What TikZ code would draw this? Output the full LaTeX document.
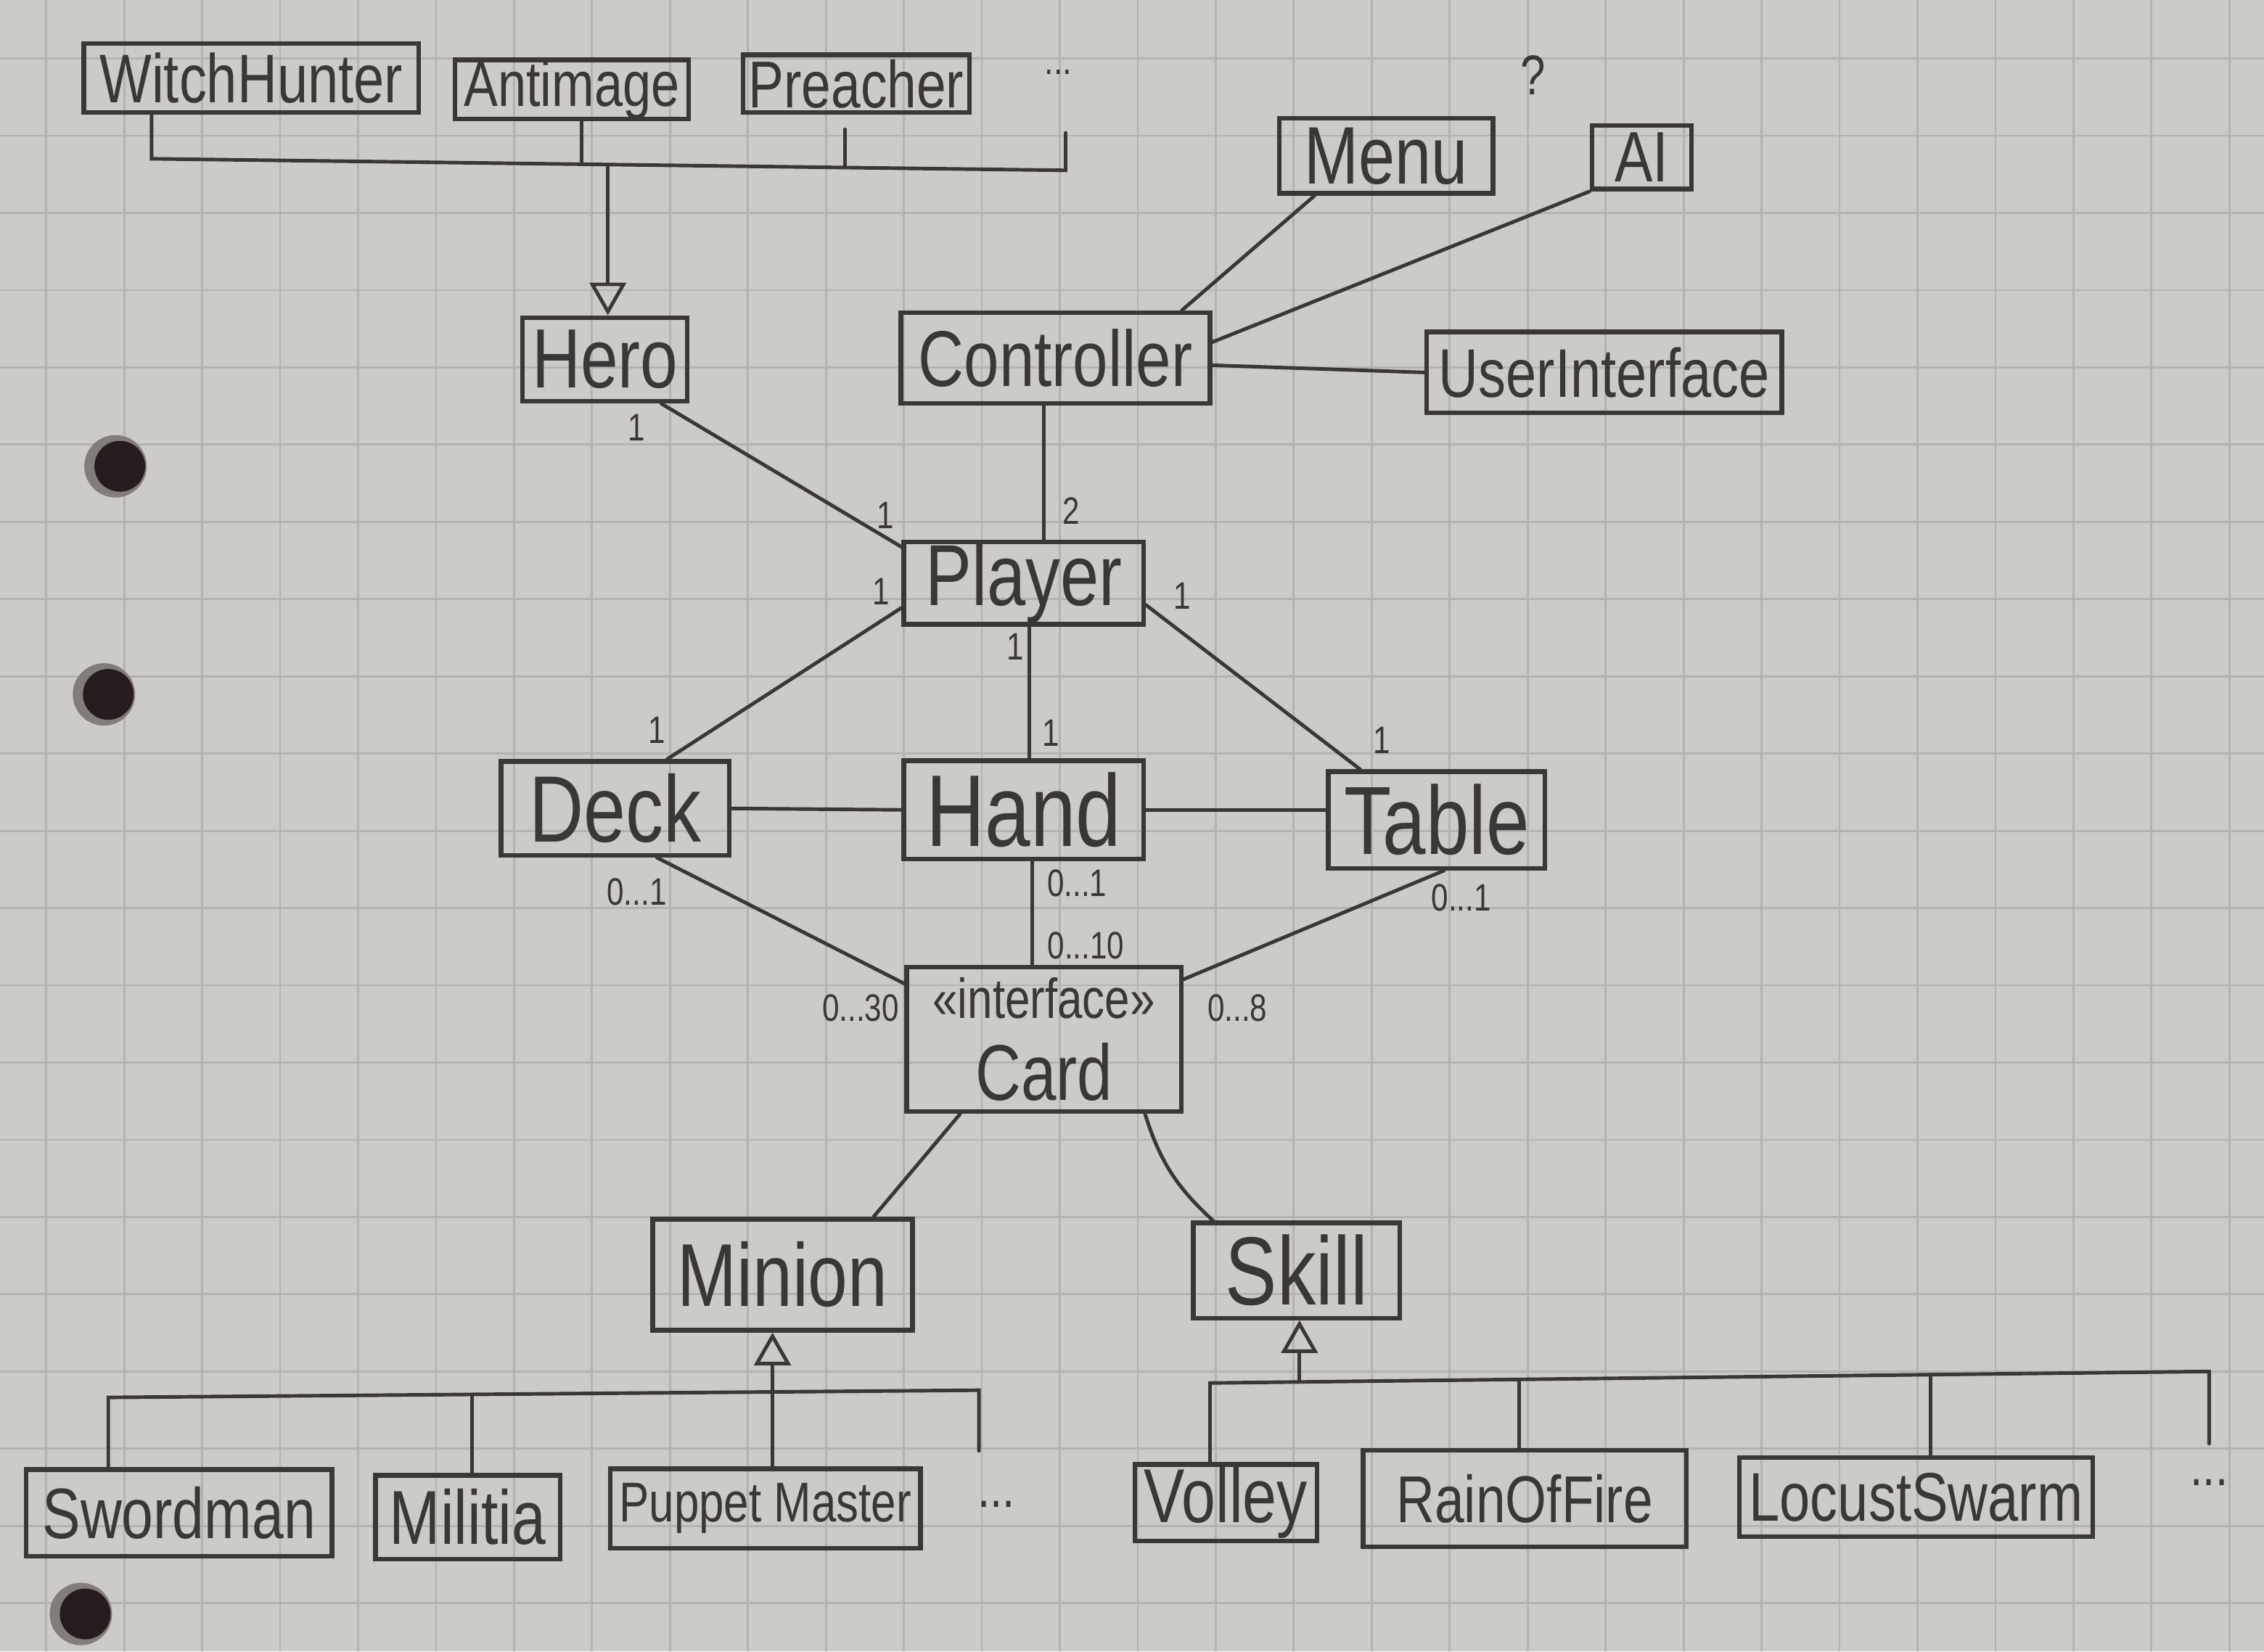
\documentclass[tikz,border=0pt]{standalone}
\usepackage{fontspec}
\setmainfont{Liberation Sans}[FakeStretch=0.8]
\usetikzlibrary{arrows.meta,calc}
\definecolor{paper}{RGB}{205,203,199}
\definecolor{gridc}{RGB}{180,179,176}
\definecolor{ink}{RGB}{58,55,55}
\definecolor{holec}{RGB}{38,28,30}
\newlength{\udisp}\setlength{\udisp}{0.0199cm}
\tikzset{
 box/.style n args={3}{draw=ink, line width=1.8pt, rectangle, inner sep=0pt, text=ink,
   minimum width=#1*\udisp, minimum height=#2*\udisp, font=\fontsize{#3}{#3}\selectfont},
 conn/.style={draw=ink, line width=1.4pt, line cap=round},
 gentip/.style={-{Triangle[open, length=0.45cm, width=0.5cm]}},
 mult/.style={text=ink, inner sep=0pt, font=\fontsize{15}{15}\selectfont},
 note/.style={text=ink, inner sep=0pt, font=\fontsize{#1}{#1}\selectfont},
}
\begin{document}
\begin{tikzpicture}[x=0.0199cm, y=-0.0199cm]
\fill[paper] (0,0) rectangle (1568,1144);
\useasboundingbox (0,0) rectangle (1568,1144);
% graph paper
\foreach \gx in {32,86,...,1568} \draw[gridc, line width=0.8pt] (\gx,0) -- (\gx,1144);
\foreach \gy in {40.5,94,...,1144} \draw[gridc, line width=0.8pt] (0,\gy) -- (1568,\gy);
% punch holes
\foreach \hx/\hy in {80/323, 72/481, 56/1118} {
  \fill[holec!45!paper] (\hx,\hy) circle[radius=0.43cm];
  \fill[holec] (\hx+3,\hy) circle[radius=0.35cm];
}
% classes
\node[box={232}{48}{27}] (witch) at (174,54) {WitchHunter};
\node[box={162}{40}{25}] (anti) at (396,62) {Antimage};
\node[box={157}{40}{26}] (preacher) at (593,58) {Preacher};
\node[note=16] (dotsA) at (733,50) {...};
\node[note=22] (qmark) at (1062,52) {?};
\node[box={148}{52}{32}] (menu) at (960,108) {Menu};
\node[box={69}{44}{28}] (ai) at (1137,109) {AI};
\node[box={114}{58}{33}] (hero) at (419,249) {Hero};
\node[box={214}{63}{31}] (controller) at (731,248) {Controller};
\node[box={246}{56}{27}] (ui) at (1111,258) {UserInterface};
\node[box={166}{57}{34}] (player) at (709,404) {Player};
\node[box={158}{65}{37}] (deck) at (426,560) {Deck};
\node[box={166}{68}{40}] (hand) at (709,561) {Hand};
\node[box={150}{67}{38}] (table) at (995,568) {Table};
\node[box={190}{100}{23}, align=center] (card) at (723,720)
  {\fontsize{22}{24}\selectfont «interface»\\[9pt]\fontsize{31}{31}\selectfont Card};
\node[box={180}{77}{35}] (minion) at (542,883) {Minion};
\node[box={143}{66}{38}] (skill) at (898,880) {Skill};
\node[box={212}{60}{28}] (sword) at (124,1048) {Swordman};
\node[box={128}{58}{30}] (militia) at (324,1051) {Militia};
\node[box={215}{55}{22}] (puppet) at (530,1045) {Puppet Master};
\node[note=22] (dotsB) at (690,1042) {...};
\node[box={126}{53}{30}] (volley) at (849,1041) {Volley};
\node[box={224}{67}{26}] (rain) at (1056,1038) {RainOfFire};
\node[box={245}{55}{27}] (locust) at (1327,1037) {LocustSwarm};
\node[note=22] (dotsC) at (1530,1027) {...};
% hero generalization
\coordinate (hb1) at (105,110);
\coordinate (hb2) at (738,118);
\coordinate (hbs) at (738,92);
\coordinate (ha) at (403,113);
\coordinate (hp) at (585,116);
\coordinate (hh) at (421,114);
\draw[conn] (witch.south -| hb1) -- (hb1) -- (hb2) -- (hbs);
\draw[conn] (anti.south -| ha) -- (ha);
\draw[conn] ($(preacher.south -| hp)+(0,10)$) -- (hp);
\draw[conn, gentip] (hh) -- (hh |- hero.north);
% controller associations
\draw[conn] ($(menu.south west)+(26,0)$) -- ($(controller.north east)+(-21,0)$);
\draw[conn] (ai.south west) -- ($(controller.east)+(0,-11)$);
\draw[conn] ($(controller.east)+(0,5)$) -- (ui.west);
\draw[conn] ($(controller.south)+(-8,0)$) coordinate (cp) -- (cp |- player.north);
% player associations
\draw[conn] ($(hero.south)+(39,0)$) -- ($(player.north west)+(0,5)$);
\draw[conn] ($(player.west)+(0,17)$) -- ($(deck.north)+(36,0)$);
\draw[conn] ($(player.south)+(4,0)$) coordinate (ph) -- (ph |- hand.north);
\draw[conn] ($(player.east)+(0,15)$) -- ($(table.north)+(-53,0)$);
\draw[conn] (deck.east) -- (hand.west);
\draw[conn] (hand.east) -- (hand.east -| table.west);
% card associations
\draw[conn] ($(deck.south)+(29,0)$) -- ($(card.north west)+(0,13)$);
\draw[conn] ($(hand.south)+(6,0)$) coordinate (hc) -- (hc |- card.north);
\draw[conn] ($(table.south)+(5,0)$) -- ($(card.north east)+(0,10)$);
\draw[conn] ($(card.south)+(-58,0)$) -- ($(minion.north)+(63,0)$);
\draw[conn] ($(card.south)+(70,0)$) to[bend right=15] ($(skill.north)+(-58,0)$);
% minion generalization
\coordinate (mbL) at (75,968);
\coordinate (mbR) at (678,963);
\coordinate (mbs) at (678,1005);
\coordinate (mm) at (327,966);
\draw[conn] (sword.north -| mbL) -- (mbL) -- (mbR) -- (mbs);
\draw[conn] (mm) -- (mm |- militia.north);
\draw[conn, gentip] ($(puppet.north)+(5,0)$) coordinate (pm) -- (pm |- minion.south);
% skill generalization
\coordinate (sbL) at (838,958);
\coordinate (sbR) at (1530,950);
\coordinate (sbs) at (1530,1000);
\coordinate (sr) at (1052,956);
\coordinate (sl) at (1337,952);
\coordinate (ss) at (900,957);
\draw[conn] (volley.north -| sbL) -- (sbL) -- (sbR) -- (sbs);
\draw[conn] (sr) -- (sr |- rain.north);
\draw[conn] (sl) -- (sl |- locust.north);
\draw[conn, gentip] (ss) -- (ss |- skill.south);
% multiplicities
\node[mult] (m1) at (441,296) {1};
\node[mult] (m2) at (613,357) {1};
\node[mult] (m3) at (742,354) {2};
\node[mult] (m4) at (610,410) {1};
\node[mult] (m5) at (455,506) {1};
\node[mult] (m6) at (703,448) {1};
\node[mult] (m7) at (728,508) {1};
\node[mult] (m8) at (819,413) {1};
\node[mult] (m9) at (957,513) {1};
\node[mult] (m10) at (441,618) {0...1};
\node[mult] (m11) at (596,698) {0...30};
\node[mult] (m12) at (746,612) {0...1};
\node[mult] (m13) at (752,655) {0...10};
\node[mult] (m14) at (1012,622) {0...1};
\node[mult] (m15) at (857,698) {0...8};
\end{tikzpicture}
\end{document}
